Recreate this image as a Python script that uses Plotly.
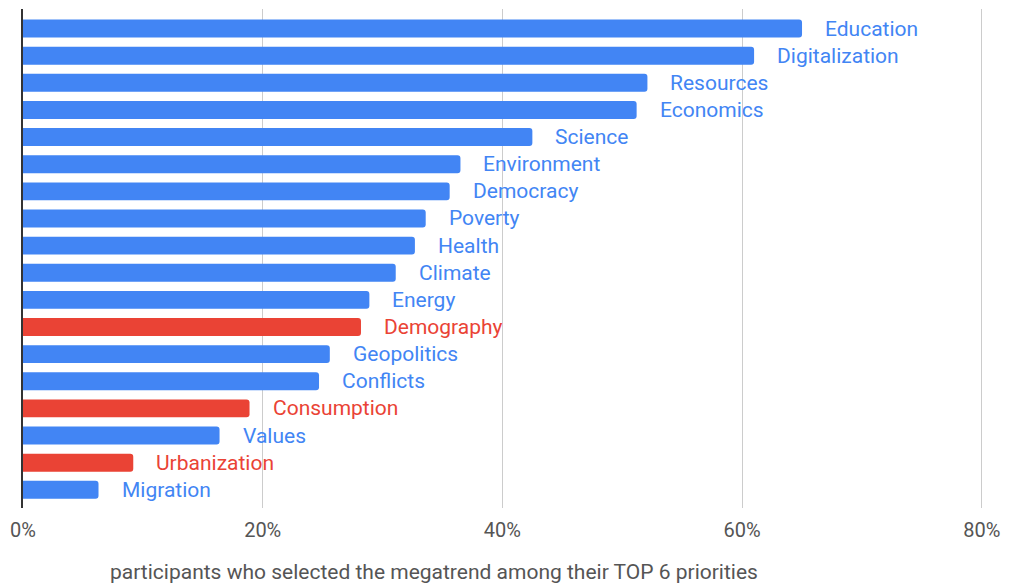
import plotly.graph_objects as go

# Megatrends ranked by share of participants (percent)
megatrends = [
    "Education", "Digitalization", "Resources", "Economics", "Science",
    "Environment", "Democracy", "Poverty", "Health", "Climate", "Energy",
    "Demography", "Geopolitics", "Conflicts", "Consumption", "Values",
    "Urbanization", "Migration",
]
share_pct = [
    65.0, 61.0, 52.1, 51.2, 42.5, 36.5, 35.6, 33.6, 32.7, 31.1, 28.9,
    28.2, 25.6, 24.7, 18.9, 16.4, 9.2, 6.3,
]
highlighted = ["Demography", "Consumption", "Urbanization"]
tick_values = [0, 20, 40, 60, 80]
tick_labels = ["0%", "20%", "40%", "60%", "80%"]
axis_title = "participants who selected the megatrend among their TOP 6 priorities"

BLUE = "#4285f4"
RED = "#ea4335"
colors = [RED if m in highlighted else BLUE for m in megatrends]

fig = go.Figure(
    go.Bar(
        x=share_pct,
        y=megatrends,
        orientation="h",
        marker=dict(color=colors, line=dict(width=0)),
        hoverinfo="x+y",
    )
)

# category name printed just past the end of each bar
for m, v, c in zip(megatrends, share_pct, colors):
    fig.add_annotation(
        x=v, y=m, xref="x", yref="y",
        text=m, showarrow=False,
        xanchor="left", yanchor="middle", xshift=21,
        font=dict(family="Roboto", size=21, color=c),
    )

fig.add_annotation(
    x=0.428, y=0, xref="paper", yref="paper",
    text=axis_title, showarrow=False,
    xanchor="center", yanchor="middle", yshift=-64,
    font=dict(family="Roboto", size=21, color="#555555"),
)

fig.update_layout(
    width=1009, height=584,
    margin=dict(l=23, r=24, t=9, b=76),
    paper_bgcolor="white", plot_bgcolor="white",
    bargap=0.34, barcornerradius=3,
    showlegend=False,
    font=dict(family="Roboto"),
    xaxis=dict(
        range=[0, 80.1],
        tickvals=tick_values, ticktext=tick_labels,
        showgrid=True, gridcolor="#cccccc", gridwidth=1,
        zeroline=False, showline=False, ticks="",
        tickfont=dict(family="Roboto", size=20, color="#555555"),
        ticklabelstandoff=8,
    ),
    yaxis=dict(
        categoryorder="array", categoryarray=megatrends,
        range=[17.67, -0.72],
        showticklabels=False, ticks="", showgrid=False,
        showline=True, linecolor="#333333", linewidth=1.5,
        zeroline=False,
    ),
)

fig.write_html("out.html")
